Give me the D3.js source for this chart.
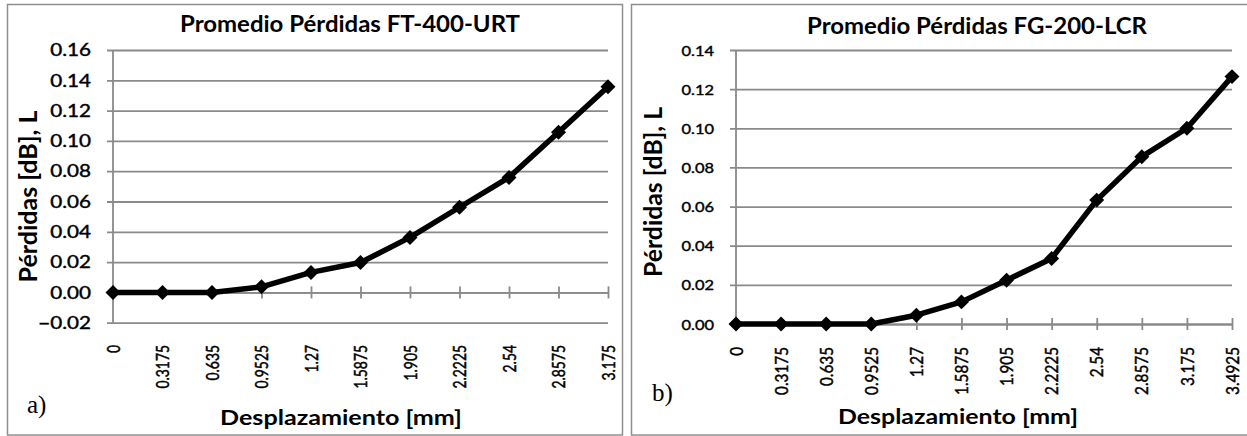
<!DOCTYPE html>
<html>
<head>
<meta charset="utf-8">
<script src="https://cdn.jsdelivr.net/npm/d3@7"></script>
<style>
  body { margin: 0; background: #fff; }
  svg text { font-family: Lato, 'Open Sans', sans-serif; fill: #000; }
</style>
</head>
<body>
<script>
// data
const catsA = ['0', '0.3175', '0.635', '0.9525', '1.27', '1.5875', '1.905', '2.2225', '2.54', '2.8575', '3.175']
const lossA = [0, 0, 0, 0.0037, 0.0132, 0.0197, 0.0363, 0.0562, 0.0759, 0.1057, 0.1358]
const ticksA = [-0.02, 0, 0.02, 0.04, 0.06, 0.08, 0.10, 0.12, 0.14, 0.16]

const catsB = ['0', '0.3175', '0.635', '0.9525', '1.27', '1.5875', '1.905', '2.2225', '2.54', '2.8575', '3.175', '3.4925']
const lossB = [0, 0, 0, 0, 0.0045, 0.0113, 0.0224, 0.0335, 0.0633, 0.0855, 0.1000, 0.1264]
const ticksB = [0, 0.02, 0.04, 0.06, 0.08, 0.10, 0.12, 0.14]

const titleA = 'Promedio Pérdidas FT-400-URT'
const titleB = 'Promedio Pérdidas FG-200-LCR'
const yTitle = 'Pérdidas [dB], L'
const xTitle = 'Desplazamiento [mm]'

const grid = '#8a8a8a'
const tickLen = 6

const svg = d3.select('body')
    .append('svg')
    .attr('width', 1247)
    .attr('height', 436)

// the picture is stretched sideways, so text gets a horizontal scale
function wide(sel, sx) {
    sel.each(function () {
        const t = d3.select(this)
        const x = +t.attr('x') || 0
        const y = +t.attr('y') || 0
        t.attr('transform', `translate(${x},${y}) scale(${sx},1) translate(${-x},${-y})`)
    })
}

function panel(p) {
    // frame
    svg.append('rect')
        .attr('x', p.frame[0]).attr('y', p.frame[1])
        .attr('width', p.frame[2]).attr('height', p.frame[3])
        .attr('fill', 'none')
        .attr('stroke', '#8f8f8f')
        .attr('stroke-width', 1.5)

    const x = d3.scalePoint().domain(p.cats).range([p.x0, p.x1])
    const y = d3.scaleLinear().domain(p.domain).range([p.yb, p.yt])

    // gridlines + value labels
    const yAxis = d3.axisLeft(y)
        .tickValues(p.ticks)
        .tickFormat(d3.format('.2f'))
        .tickSize(-(p.x1 - p.x0 + tickLen))
        .tickPadding(16)
    const gy = svg.append('g')
        .attr('transform', `translate(${p.x0 - tickLen},0)`)
        .call(yAxis)
    gy.select('.domain').remove()
    gy.selectAll('.tick line').attr('stroke', grid).attr('stroke-width', 1.8)
    gy.selectAll('.tick text')
        .attr('font-family', null)
        .attr('font-size', p.yFont)
        .attr('dy', '0.35em')
        .attr('stroke', '#000')
        .attr('stroke-width', 0.4)
        .call(wide, p.sx)

    // value axis line
    svg.append('line')
        .attr('x1', p.x0).attr('x2', p.x0)
        .attr('y1', y(p.domain[1])).attr('y2', y(p.domain[0]))
        .attr('stroke', grid).attr('stroke-width', 1.8)

    // category axis at zero with crossing ticks
    const gx = svg.append('g')
        .attr('transform', `translate(0,${y(0)})`)
        .call(d3.axisBottom(x).tickSize(tickLen).tickSizeOuter(0).tickFormat(''))
    gx.select('.domain').attr('stroke', grid).attr('stroke-width', 1.8)
    gx.selectAll('.tick line').attr('y1', -tickLen).attr('stroke', grid).attr('stroke-width', 1.8)

    // category labels sit low, under the plot
    const gl = svg.append('g')
        .attr('transform', `translate(0,${p.labelY})`)
        .call(d3.axisBottom(x).tickSize(0))
    gl.select('.domain').remove()
    gl.selectAll('.tick text')
        .attr('font-family', null)
        .attr('font-size', p.xFont)
        .attr('x', 0).attr('y', 0)
        .attr('dy', '0.35em')
        .attr('text-anchor', 'end')
        .attr('stroke', '#000')
        .attr('stroke-width', 0.4)
        .attr('transform', `scale(${p.sx},1) rotate(-90)`)

    // series
    const pts = p.cats.map((c, i) => ({ c: c, v: p.vals[i] }))
    svg.append('path')
        .datum(pts)
        .attr('fill', 'none')
        .attr('stroke', '#000')
        .attr('stroke-width', 5.5)
        .attr('stroke-linejoin', 'round')
        .attr('d', d3.line().x(d => x(d.c)).y(d => y(d.v)))

    svg.append('g')
        .selectAll('path')
        .data(pts)
        .enter()
        .append('path')
        .attr('d', d3.symbol(d3.symbolSquare, 112))
        .attr('transform', d => `translate(${x(d.c)},${y(d.v)}) rotate(45)`)
        .attr('fill', '#000')

    // titles
    svg.append('text')
        .attr('x', p.title[0]).attr('y', p.title[1])
        .attr('text-anchor', 'middle')
        .attr('font-weight', 'bold')
        .attr('font-size', 22.5)
        .attr('textLength', p.title[2])
        .attr('lengthAdjust', 'spacingAndGlyphs')
        .text(p.name)

    svg.append('text')
        .attr('x', p.xt[0]).attr('y', p.xt[1])
        .attr('text-anchor', 'middle')
        .attr('font-weight', 'bold')
        .attr('font-size', 21)
        .attr('textLength', p.xt[2])
        .attr('lengthAdjust', 'spacingAndGlyphs')
        .text(xTitle)

    svg.append('text')
        .attr('text-anchor', 'middle')
        .attr('font-weight', 'bold')
        .attr('font-size', 24)
        .attr('textLength', p.yt2[2])
        .attr('lengthAdjust', 'spacingAndGlyphs')
        .attr('transform', `translate(${p.yt2[0]},${p.yt2[1]}) rotate(-90)`)
        .text(yTitle)

    svg.append('text')
        .attr('x', p.tag[0]).attr('y', p.tag[1])
        .style('font-family', "'Liberation Serif', serif")
        .attr('font-size', 25)
        .text(p.tagText)
}

panel({
    name: titleA, cats: catsA, vals: lossA, ticks: ticksA, domain: [-0.02, 0.16],
    frame: [7.5, 4.5, 615, 430.5],
    x0: 113, x1: 608, yt: 50, yb: 322.7,
    yFont: 16.5, xFont: 13.9, sx: 1.25, labelY: 345,
    title: [350, 32, 340], xt: [341, 425, 242], yt2: [37, 196.5, 172], tag: [27, 413], tagText: 'a)'
})

panel({
    name: titleB, cats: catsB, vals: lossB, ticks: ticksB, domain: [0, 0.14],
    frame: [631.5, 4.5, 620, 430.5],
    x0: 736, x1: 1232, yt: 50, yb: 324,
    yFont: 14.3, xFont: 15.3, sx: 1.15, labelY: 347,
    title: [977, 33.5, 340], xt: [958, 423.5, 240], yt2: [662, 192, 170], tag: [652, 401], tagText: 'b)'
})
</script>
</body>
</html>
